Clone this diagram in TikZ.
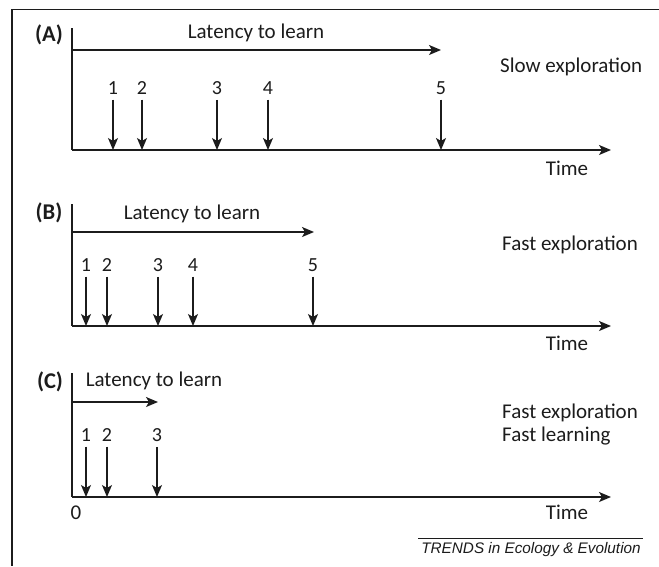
\documentclass[tikz,border=0pt]{standalone}
\usepackage{fontspec}
\setmainfont{Carlito}
\newfontfamily\trendsfont{Liberation Sans}
\usetikzlibrary{arrows.meta}
\definecolor{ink}{HTML}{1C1C1C}
\tikzset{
  axis/.style={draw=ink, line width=1.4pt},
  tiparrow/.style={draw=ink, line width=1.4pt, -{Stealth[length=12pt,width=10pt,inset=3pt]}},
  lbl/.style={inner sep=0pt, text=ink, font=\fontsize{21}{24}\selectfont},
  panel/.style={inner sep=0pt, text=ink, font=\fontsize{22.5}{26}\selectfont\bfseries},
  num/.style={inner sep=0pt, text=ink, font=\fontsize{20}{22}\selectfont},
  side/.style={inner sep=0pt, text=ink, anchor=west, font=\fontsize{21}{24}\selectfont},
}
\begin{document}
\begin{tikzpicture}[x=1pt,y=-1pt]
\useasboundingbox (0,0) rectangle (659,566);
\fill[white] (0,0) rectangle (659,566);
% outer frame (top and left edges)
\draw[ink, line width=1.4pt] (659,9.5) -- (12,9.5) -- (12,566);

% ---------- Panel A: slow exploration ----------
\node[panel] (pA) at (49,35) {(A)};
\coordinate (A0) at (72,150);
\coordinate (Atop) at (72,28);
\coordinate (Aend) at (611,150);
\coordinate (Alat0) at (72,50);
\coordinate (Alat1) at (441,50);
\draw[axis] (Atop) -- (A0);
\draw[tiparrow] (A0) -- (Aend);
\draw[tiparrow] (Alat0) -- (Alat1);
\node[lbl] (Alat) at (256,33) {Latency to learn};
\node[side] (Aside) at (500,67) {Slow exploration};
\node[lbl] (Atime) at (567,168) {Time};
\foreach \i/\x in {1/113,2/142,3/217,4/268,5/441}{
  \node[num] (An\i) at (\x,88) {\i};
  \coordinate (Ab\i) at (\x,150);
  \draw[tiparrow] (An\i.south) ++(0,5) -- (Ab\i);
}

% ---------- Panel B: fast exploration ----------
\node[panel] (pB) at (49,213) {(B)};
\coordinate (B0) at (72,326);
\coordinate (Btop) at (72,204);
\coordinate (Bend) at (611,326);
\coordinate (Blat0) at (72,232);
\coordinate (Blat1) at (314,232);
\draw[axis] (Btop) -- (B0);
\draw[tiparrow] (B0) -- (Bend);
\draw[tiparrow] (Blat0) -- (Blat1);
\node[lbl] (Blat) at (192,214) {Latency to learn};
\node[side] (Bside) at (502,245) {Fast exploration};
\node[lbl] (Btime) at (567,343) {Time};
\foreach \i/\x in {1/86,2/107,3/158,4/193,5/313}{
  \node[num] (Bn\i) at (\x,265) {\i};
  \coordinate (Bb\i) at (\x,326);
  \draw[tiparrow] (Bn\i.south) ++(0,5) -- (Bb\i);
}

% ---------- Panel C: fast exploration, fast learning ----------
\node[panel] (pC) at (50,382) {(C)};
\coordinate (C0) at (72,497);
\coordinate (Ctop) at (72,373);
\coordinate (Cend) at (611,497);
\coordinate (Clat0) at (72,402);
\coordinate (Clat1) at (158,402);
\draw[axis] (Ctop) -- (C0);
\draw[tiparrow] (C0) -- (Cend);
\draw[tiparrow] (Clat0) -- (Clat1);
\node[lbl] (Clat) at (154,381) {Latency to learn};
\node[side] (Cside1) at (502,413) {Fast exploration};
\node[side] (Cside2) at (502,436) {Fast learning};
\node[lbl] (Ctime) at (567,512) {Time};
\node[lbl] (Czero) at (76,513) {0};
\foreach \i/\x in {1/86,2/107,3/157}{
  \node[num] (Cn\i) at (\x,435) {\i};
  \coordinate (Cb\i) at (\x,497);
  \draw[tiparrow] (Cn\i.south) ++(0,5) -- (Cb\i);
}

% ---------- journal credit ----------
\coordinate (rule0) at (418,538);
\coordinate (rule1) at (643,538);
\draw[ink, line width=1pt] (rule0) -- (rule1);
\node[inner sep=0pt, text=ink, font=\trendsfont\itshape\fontsize{15.3}{17}\selectfont] (credit) at (531,550) {TRENDS in Ecology \& Evolution};
\end{tikzpicture}
\end{document}
